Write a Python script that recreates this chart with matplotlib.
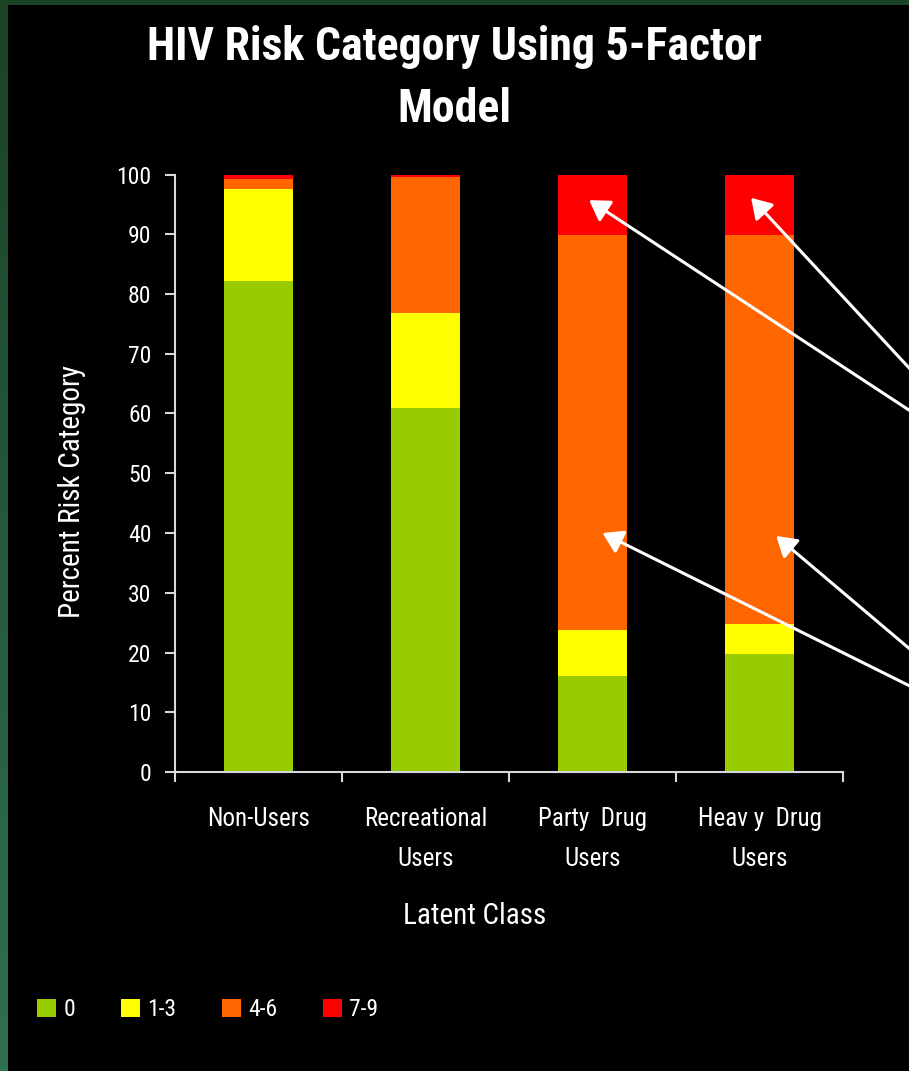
import numpy as np
import matplotlib
matplotlib.use("Agg")
from matplotlib import pyplot as plt
from matplotlib.patches import Rectangle
from matplotlib.colors import LinearSegmentedColormap

plt.rcParams['font.family'] = ['Roboto Condensed', 'Liberation Sans', 'DejaVu Sans']

# percent of each latent class falling in each risk score band
categories = ["Non-Users", "Recreational\nUsers", "Party  Drug\nUsers", "Heav y  Drug\nUsers"]
risk_0 = [82.1, 61.0, 16.0, 19.8]
risk_1_3 = [15.4, 15.9, 7.7, 5.0]
risk_4_6 = [1.7, 22.6, 66.2, 65.0]
risk_7_9 = [0.8, 0.8, 10.4, 10.2]
band_labels = ["0", "1-3", "4-6", "7-9"]
band_colors = ["#99cc00", "#ffff00", "#ff6600", "#ff0000"]

# callout arrows: (class index, percent) of the tip, tail off the right edge in figure pixels
arrow_tips = [(1.98, 95.7), (2.95, 96.1), (2.06, 40.0), (3.10, 39.5)]
arrow_tails = [(950, 634), (950, 659), (950, 365), (950, 388)]

W, H = 909, 1071
fig = plt.figure(figsize=(W / 100, H / 100), dpi=100, facecolor="black")

# green frame: gradient strip on the left, flat band on top
edge = fig.add_axes([0, 0, 7.5 / W, 1])
cmap = LinearSegmentedColormap.from_list("edge", ["#1a4224", "#2f7050"])
edge.imshow(np.linspace(0, 1, 256).reshape(-1, 1), cmap=cmap, aspect="auto")
edge.axis("off")
fig.add_artist(Rectangle((0, 1 - 5 / H), 1, 5 / H, transform=fig.transFigure,
                         color="#1b4326", lw=0))

ax = fig.add_axes([175 / W, (H - 772) / H, (843 - 175) / W, (772 - 174.5) / H])
ax.set_facecolor("black")

x = np.arange(len(categories))
series = [risk_0, risk_1_3, risk_4_6, risk_7_9]
bottom = np.zeros(len(categories))
handles = []
for vals, col, lab in zip(series, band_colors, band_labels):
    bars = ax.bar(x, vals, width=0.41, bottom=bottom, color=col, label=lab, lw=0)
    handles.append(bars)
    bottom += np.array(vals)

ax.set_xlim(-0.5, 3.5)
ax.set_ylim(0, 100)
ax.set_yticks(range(0, 101, 10))

# boundary ticks between classes, labels centred on the bars
ax.set_xticks(np.arange(-0.5, 3.6, 1.0))
ax.set_xticklabels([])
ax.set_xticks(x, minor=True)
ax.set_xticklabels(categories, minor=True, linespacing=1.85)
ax.tick_params(axis="x", which="minor", length=0, pad=25, labelsize=18, labelcolor="white")
ax.tick_params(axis="x", which="major", direction="out", length=7, width=1.5, color="#d9d9d9")
ax.tick_params(axis="y", direction="out", length=7, width=1.5, color="#d9d9d9",
               pad=10, labelsize=17, labelcolor="white")

for side in ["top", "right"]:
    ax.spines[side].set_visible(False)
for side in ["left", "bottom"]:
    ax.spines[side].set_color("#d9d9d9")
    ax.spines[side].set_linewidth(1.5)

ax.set_xlabel("Latent Class", fontsize=21, color="white")
ax.xaxis.set_label_coords(0.449, -0.218)
ax.set_ylabel("Percent Risk Category", fontsize=21, color="white")
ax.yaxis.set_label_coords(-0.1335, 0.469)

fig.text(0.5, 1 - 78 / H, "HIV Risk Category Using 5-Factor\nModel", ha="center", va="center",
         fontsize=33, fontweight="bold", color="white", linespacing=1.5)

for tip, tail in zip(arrow_tips, arrow_tails):
    ax.annotate("", xy=tip, xycoords="data", xytext=tail, textcoords="figure pixels",
                annotation_clip=False, zorder=5,
                arrowprops=dict(arrowstyle="-|>,head_length=0.4,head_width=0.25",
                                color="white", lw=2.2, mutation_scale=30,
                                shrinkA=0, shrinkB=0))

fig.legend(handles=handles, labels=band_labels, loc="center left",
           bbox_to_anchor=(28 / W, (H - 1010) / H), ncol=4, frameon=False,
           fontsize=17, labelcolor="white", handlelength=0.8, handleheight=0.8,
           handletextpad=0.3, columnspacing=1.95, borderaxespad=0)

fig.savefig("out.png", dpi=100, facecolor=fig.get_facecolor())
